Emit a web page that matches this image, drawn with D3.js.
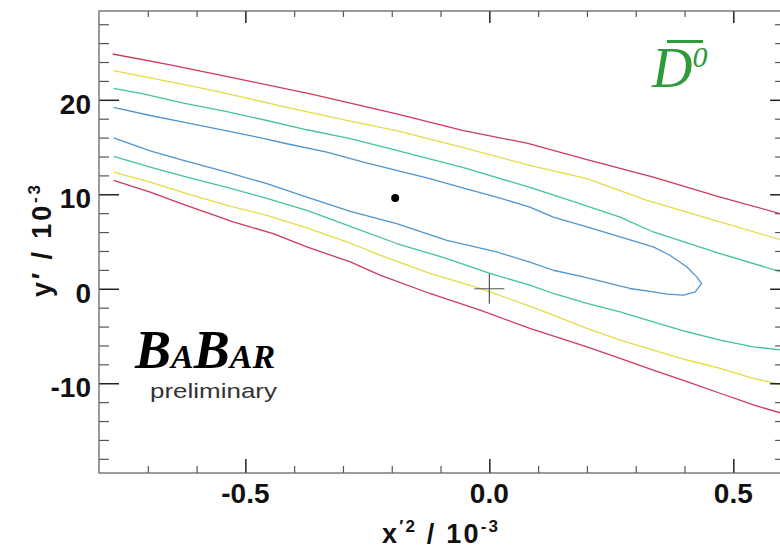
<!DOCTYPE html>
<html>
<head>
<meta charset="utf-8">
<script src="https://cdn.jsdelivr.net/npm/d3@7"></script>
<style>
  body { margin: 0; background: #fff; }
  svg { display: block; }
</style>
</head>
<body>
<svg id="chart" width="780" height="549"></svg>
<script>
// ---- axes ----
const xDomain = [-0.8, 0.6];
const yDomain = [-19.5, 29.4];
const xMajorTicks = [-0.5, 0.0, 0.5];
const xTickLabels = ["-0.5", "0.0", "0.5"];
const xMinorTicks = [-0.7, -0.6, -0.4, -0.3, -0.2, -0.1, 0.1, 0.2, 0.3, 0.4];
const yMajorTicks = [-10, 0, 10, 20];
const yTickLabels = ["-10", "0", "10", "20"];
const yMinorTicks = [-18, -16, -14, -12, -8, -6, -4, -2, 2, 4, 6, 8, 12, 14, 16, 18, 22, 24, 26, 28];

// ---- likelihood contours, (x'^2, y') in units of 1e-3 ----
const contourRedUpper = [[-0.772,24.85],[-0.654,23.69],[-0.497,22.03],[-0.367,20.63],[-0.285,19.64],[-0.190,18.52],[-0.053,16.75],[0.077,15.41],[0.200,13.66],[0.336,11.82],[0.473,9.71],[0.600,7.90]];
const contourYellowUpper = [[-0.770,23.09],[-0.695,22.32],[-0.572,21.05],[-0.490,20.10],[-0.415,19.21],[-0.285,17.74],[-0.190,16.75],[-0.053,14.93],[0.083,13.06],[0.200,11.65],[0.323,9.36],[0.473,7.07],[0.600,5.13]];
const contourGreenUpper = [[-0.770,21.22],[-0.709,20.63],[-0.627,19.64],[-0.538,18.76],[-0.456,17.81],[-0.374,16.83],[-0.285,15.88],[-0.190,14.64],[-0.053,12.81],[0.083,10.73],[0.165,9.36],[0.268,7.59],[0.336,6.01],[0.473,3.73],[0.600,1.75]];
const contourBlue = [[-0.770,19.21],[-0.695,18.34],[-0.627,17.63],[-0.490,16.22],[-0.415,15.35],[-0.333,14.46],[-0.258,13.40],[-0.190,12.53],[-0.122,11.65],[-0.053,10.66],[0.015,9.71],[0.083,8.65],[0.131,7.59],[0.200,6.54],[0.268,5.48],[0.336,4.43],[0.370,3.55],[0.405,2.31],[0.425,1.26],[0.435,0.56],[0.422,-0.33],[0.398,-0.68],[0.364,-0.57],[0.336,-0.33],[0.288,0.03],[0.234,0.73],[0.186,1.33],[0.131,1.96],[0.083,2.81],[0.015,3.90],[-0.087,5.13],[-0.190,6.90],[-0.285,8.20],[-0.374,9.71],[-0.456,11.12],[-0.538,12.35],[-0.627,13.58],[-0.695,14.59],[-0.770,15.96]];
const contourGreenLower = [[-0.770,14.01],[-0.695,12.88],[-0.620,11.82],[-0.538,10.73],[-0.456,9.57],[-0.374,8.30],[-0.285,6.61],[-0.190,4.79],[-0.087,3.20],[0.001,1.62],[0.083,0.38],[0.131,-0.50],[0.200,-1.55],[0.268,-2.44],[0.336,-3.50],[0.405,-4.55],[0.473,-5.43],[0.541,-6.14],[0.600,-6.49]];
const contourYellowLower = [[-0.770,12.35],[-0.695,11.29],[-0.620,10.07],[-0.538,8.83],[-0.456,7.77],[-0.374,6.45],[-0.285,4.82],[-0.224,3.55],[-0.122,1.62],[-0.019,0.03],[0.083,-1.84],[0.131,-2.79],[0.200,-4.19],[0.268,-5.43],[0.336,-6.49],[0.405,-7.54],[0.473,-8.42],[0.541,-9.48],[0.600,-10.18]];
const contourRedLower = [[-0.770,11.47],[-0.695,10.24],[-0.627,8.94],[-0.525,7.07],[-0.443,5.84],[-0.374,4.43],[-0.285,2.84],[-0.224,1.44],[-0.122,-0.50],[-0.019,-2.26],[0.083,-4.19],[0.200,-6.14],[0.268,-7.36],[0.336,-8.60],[0.405,-9.83],[0.473,-11.06],[0.541,-12.30],[0.600,-13.19]];

const bestFit = [-0.193, 9.6];
const noMixing = [0, 0];

const levelColors = { red: "#cf3a5c", yellow: "#e4dc48", green: "#45c29e", blue: "#4f95cf" };

// ---- layout ----
const svg = d3.select("#chart");
const plotLeft = 99, plotRight = 782.1, plotTop = 11, plotBottom = 473;
const x = d3.scaleLinear().domain(xDomain).range([plotLeft, plotRight]);
const y = d3.scaleLinear().domain(yDomain).range([plotBottom, plotTop]);

svg.append("defs").append("clipPath").attr("id", "plotClip")
  .append("rect").attr("x", plotLeft).attr("y", plotTop)
  .attr("width", plotRight - plotLeft).attr("height", plotBottom - plotTop);

// contours
const line = d3.line().x(d => x(d[0])).y(d => y(d[1]));
const contours = [
  [contourRedUpper, levelColors.red],
  [contourYellowUpper, levelColors.yellow],
  [contourGreenUpper, levelColors.green],
  [contourBlue, levelColors.blue],
  [contourGreenLower, levelColors.green],
  [contourYellowLower, levelColors.yellow],
  [contourRedLower, levelColors.red]
];
const plot = svg.append("g").attr("clip-path", "url(#plotClip)");
plot.selectAll("path.contour").data(contours).join("path")
  .attr("class", "contour")
  .attr("d", d => line(d[0]))
  .attr("fill", "none")
  .attr("stroke", d => d[1])
  .attr("stroke-width", 1.3)
  .attr("stroke-linejoin", "round");

// no-mixing point marker
const crossHalf = 15;
plot.append("path")
  .attr("d", `M${x(noMixing[0]) - crossHalf},${y(noMixing[1])}H${x(noMixing[0]) + crossHalf}` +
             `M${x(noMixing[0])},${y(noMixing[1]) - crossHalf}V${y(noMixing[1]) + crossHalf}`)
  .attr("stroke", "#555").attr("stroke-width", 1.2).attr("fill", "none");

// best-fit point
plot.append("circle")
  .attr("cx", x(bestFit[0])).attr("cy", y(bestFit[1]))
  .attr("r", 4).attr("fill", "#000");

// ---- frame and ticks ----
function tickAxis(axisFn, scale, values, size, tx, ty, stroke, width) {
  const g = svg.append("g").attr("transform", `translate(${tx},${ty})`)
    .call(axisFn(scale).tickValues(values).tickSizeInner(size).tickSizeOuter(0).tickFormat(""));
  g.select(".domain").remove();
  g.selectAll(".tick line").attr("stroke", stroke).attr("stroke-width", width);
  return g;
}
const minorCol = "#555", majorCol = "#222";
tickAxis(d3.axisBottom, x, xMinorTicks, -7, 0, plotBottom, minorCol, 1.2);
tickAxis(d3.axisBottom, x, xMajorTicks, -14, 0, plotBottom, majorCol, 1.5);
tickAxis(d3.axisTop, x, xMinorTicks, -6, 0, plotTop, minorCol, 1.2);
tickAxis(d3.axisTop, x, xMajorTicks, -12, 0, plotTop, majorCol, 1.5);
tickAxis(d3.axisLeft, y, yMinorTicks, -10, plotLeft, 0, minorCol, 1.2);
tickAxis(d3.axisLeft, y, yMajorTicks, -20, plotLeft, 0, majorCol, 1.5);
tickAxis(d3.axisRight, y, yMinorTicks, -7, plotRight, 0, minorCol, 1.2);
tickAxis(d3.axisRight, y, yMajorTicks, -12, plotRight, 0, majorCol, 1.5);

svg.append("rect")
  .attr("x", plotLeft).attr("y", plotTop)
  .attr("width", plotRight - plotLeft).attr("height", plotBottom - plotTop)
  .attr("fill", "none").attr("stroke", "#666").attr("stroke-width", 1.3);

// tick labels
const labelFont = "'Liberation Sans', Arial, sans-serif";
svg.append("g").selectAll("text").data(xMajorTicks).join("text")
  .attr("x", d => x(d)).attr("y", 503)
  .attr("text-anchor", "middle")
  .attr("font-family", labelFont).attr("font-weight", "bold").attr("font-size", 28)
  .attr("fill", "#111")
  .text((d, i) => xTickLabels[i]);
svg.append("g").selectAll("text").data(yMajorTicks).join("text")
  .attr("x", 91).attr("y", d => y(d) + 14)
  .attr("text-anchor", "end")
  .attr("font-family", labelFont).attr("font-weight", "bold").attr("font-size", 28)
  .attr("fill", "#111")
  .text((d, i) => yTickLabels[i]);

// axis titles
function axisTitle(sel, base, sup1, mid, sup2) {
  sel.append("tspan").text(base);
  if (sup1) {
    sel.append("tspan").attr("font-size", 17).attr("dy", -11).text(sup1);
    sel.append("tspan").attr("dy", 11).text(mid);
  } else {
    sel.append("tspan").text(mid);
  }
  sel.append("tspan").attr("font-size", 17).attr("dy", -11).text(sup2);
}
const xt = svg.append("text")
  .attr("x", 382).attr("y", 543)
  .attr("font-family", labelFont).attr("font-weight", "bold").attr("font-size", 27)
  .attr("fill", "#111")
  .attr("textLength", 116).attr("lengthAdjust", "spacing");
axisTitle(xt, "x", "\u20322", " / 10", "-3");

const yt = svg.append("text")
  .attr("transform", "translate(51,297) rotate(-90)")
  .attr("x", 0).attr("y", 0)
  .attr("font-family", labelFont).attr("font-weight", "bold").attr("font-size", 27)
  .attr("fill", "#111")
  .attr("textLength", 112).attr("lengthAdjust", "spacing");
axisTitle(yt, "y\u2032", "", " / 10", "-3");

// experiment logo
const serif = "'Liberation Serif', 'Times New Roman', serif";
const logo = svg.append("text")
  .attr("x", 135).attr("y", 368)
  .attr("font-family", serif).attr("font-style", "italic").attr("font-weight", "bold")
  .attr("fill", "#000");
logo.append("tspan").attr("font-size", 54).text("B");
logo.append("tspan").attr("font-size", 34).text("A");
logo.append("tspan").attr("font-size", 54).text("B");
logo.append("tspan").attr("font-size", 34).text("AR");

svg.append("text")
  .attr("x", 150).attr("y", 398)
  .attr("font-family", labelFont).attr("font-size", 21)
  .attr("fill", "#333")
  .attr("textLength", 127).attr("lengthAdjust", "spacingAndGlyphs")
  .text("preliminary");

// particle label: D-bar zero
const green = "#2e9a3c";
const dLabel = svg.append("text")
  .attr("x", 652).attr("y", 87)
  .attr("font-family", serif).attr("font-style", "italic")
  .attr("fill", green);
dLabel.append("tspan").attr("font-size", 56).text("D");
dLabel.append("tspan").attr("font-size", 30).attr("dy", -20).text("0");
svg.append("rect")
  .attr("x", 667).attr("y", 40).attr("width", 36).attr("height", 3)
  .attr("fill", green);
</script>
</body>
</html>
